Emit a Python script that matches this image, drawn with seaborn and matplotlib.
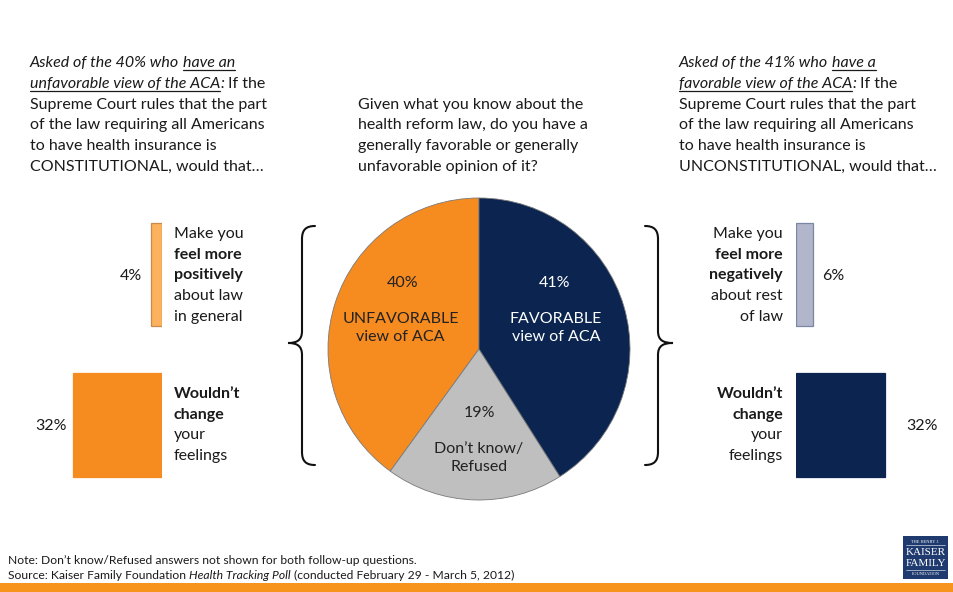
import matplotlib
matplotlib.use("Agg")
import matplotlib.pyplot as plt
from matplotlib.path import Path
from matplotlib.patches import PathPatch, Rectangle
import seaborn as sns
import pandas as pd

# Overall opinion of the health reform law
pie_labels = ["UNFAVORABLE\nview of ACA", "Don\u2019t know/\nRefused", "FAVORABLE\nview of ACA"]
pie_values = [40, 19, 41]
pie_colors = ["#F68B1F", "#BFBFBF", "#0B2550"]

# Follow-up among the unfavorable group (ruling: CONSTITUTIONAL)
unfav_categories = ["More positive", "No change"]
unfav_values = [4, 32]
unfav_colors = ["#FBB15E", "#F68B1F"]
unfav_edges = ["#C98A4B", "#F68B1F"]

# Follow-up among the favorable group (ruling: UNCONSTITUTIONAL)
fav_categories = ["More negative", "No change"]
fav_values = [6, 32]
fav_colors = ["#B1B6CB", "#0B2550"]
fav_edges = ["#7A86A6", "#0B2550"]

W, H = 954, 592
FS = 11.5
FONT = ["Lato", "DejaVu Sans"]

sns.set_theme(style="white")
plt.rcParams["font.family"] = FONT

fig = plt.figure(figsize=(W / 100, H / 100), dpi=100)
fig.patch.set_facecolor("white")


def px_axes(x0, y0, x1, y1):
    """Axes placed by pixel box (top-left origin)."""
    return fig.add_axes([x0 / W, (H - y1) / H, (x1 - x0) / W, (y1 - y0) / H])


PX_PER_PCT = 2.77
BAR_W = 132


def bar_panel(ax, cats, vals, colors, edges, flip):
    df = pd.DataFrame({"category": cats, "value": vals})
    sns.barplot(data=df, x="value", y="category", hue="category",
                palette=colors, legend=False, orient="h", width=0.69,
                ax=ax, saturation=1)
    for p, ec in zip(ax.patches, edges):
        p.set_edgecolor(ec)
        p.set_linewidth(0.9)
    lim = BAR_W / PX_PER_PCT
    ax.set_xlim((lim, 0) if flip else (0, lim))
    ax.set_ylim(1.5, -0.5)
    ax.set_axis_off()


ax_l = px_axes(162 - BAR_W, 199.25, 162, 500.25)
bar_panel(ax_l, unfav_categories, unfav_values, unfav_colors, unfav_edges, True)
ax_r = px_axes(796, 199.25, 796 + BAR_W, 500.25)
bar_panel(ax_r, fav_categories, fav_values, fav_colors, fav_edges, False)

# Pie of overall opinion
ax_p = px_axes(328, 198, 630, 500)
ax_p.pie(pie_values, colors=pie_colors, startangle=90, counterclock=True,
         radius=1, wedgeprops=dict(edgecolor="#7a7a7a", linewidth=0.6))
ax_p.set_xlim(-1, 1)
ax_p.set_ylim(-1, 1)
ax_p.set_aspect("equal")
pct_pos = [(-0.503, 0.437), (0.0, -0.424), (0.503, 0.437)]
lab_pos = [(-0.52, 0.14), (0.0, -0.72), (0.51, 0.14)]
txt_cols = ["#222222", "#222222", "white"]
for v, lab, pp, lp, c in zip(pie_values, pie_labels, pct_pos, lab_pos, txt_cols):
    ax_p.text(*pp, f"{v}%", ha="center", va="center", fontsize=FS, color=c)
    ax_p.text(*lp, lab, ha="center", va="center", fontsize=FS, color=c,
              linespacing=1.38)

# Overlay in pixel coordinates for annotations
ov = fig.add_axes([0, 0, 1, 1])
ov.set_xlim(0, W)
ov.set_ylim(H, 0)
ov.set_axis_off()
ov.patch.set_alpha(0)

renderer = fig.canvas.get_renderer()
TXT = "#1a1a1a"


def text_width(s, **kw):
    t = ov.text(0, 0, s, fontsize=kw.get("size", FS),
                fontweight=kw.get("weight", "normal"),
                fontstyle=kw.get("style", "normal"))
    w = t.get_window_extent(renderer).width
    t.remove()
    return w


def rich(x, y, parts, size=FS):
    """Draw a line made of styled pieces; each piece is
    (text, weight, style, underline, space_before)."""
    cx = x
    for s, weight, style, under, space in parts:
        if space:
            cx += text_width("n n", size=size, weight=weight, style=style) - \
                text_width("nn", size=size, weight=weight, style=style)
        t = ov.text(cx, y, s, fontsize=size, fontweight=weight,
                    fontstyle=style, color=TXT, ha="left", va="baseline")
        bb = t.get_window_extent(renderer)
        if under:
            ov.plot([bb.x0, bb.x1], [y + 2.5, y + 2.5], color=TXT, lw=0.9)
        cx = bb.x1


N, I = "normal", "italic"
BASE = [67, 88, 108.5, 129, 150, 170.5]

left_block = [
    [("Asked of the 40% who", N, I, False, False), ("have an", N, I, True, True)],
    [("unfavorable view of the ACA", N, I, True, False), (":", N, I, False, False),
     ("If the", N, N, False, True)],
    [("Supreme Court rules that the part", N, N, False, False)],
    [("of the law requiring all Americans", N, N, False, False)],
    [("to have health insurance is", N, N, False, False)],
    [("CONSTITUTIONAL, would that\u2026", N, N, False, False)],
]
right_block = [
    [("Asked of the 41% who", N, I, False, False), ("have a", N, I, True, True)],
    [("favorable view of the ACA", N, I, True, False), (":", N, I, False, False),
     ("If the", N, N, False, True)],
    [("Supreme Court rules that the part", N, N, False, False)],
    [("of the law requiring all Americans", N, N, False, False)],
    [("to have health insurance is", N, N, False, False)],
    [("UNCONSTITUTIONAL, would that\u2026", N, N, False, False)],
]
for parts, y in zip(left_block, BASE):
    rich(30, y, parts)
for parts, y in zip(right_block, BASE):
    rich(679, y, parts)

center_lines = ["Given what you know about the",
                "health reform law, do you have a",
                "generally favorable or generally",
                "unfavorable opinion of it?"]
for s, y in zip(center_lines, BASE[2:]):
    ov.text(358, y, s, fontsize=FS, color=TXT, va="baseline")

# Bar descriptions
B = "bold"
top_lbl_y = [238, 259, 279.5, 300, 321]
low_lbl_y = [398, 419, 439.5, 460]
left_top = [("Make you", N), ("feel more", B), ("positively", B),
            ("about law", N), ("in general", N)]
right_top = [("Make you", N), ("feel more", B), ("negatively", B),
             ("about rest", N), ("of law", N)]
low = [("Wouldn\u2019t", B), ("change", B), ("your", N), ("feelings", N)]
for (s, w), y in zip(left_top, top_lbl_y):
    ov.text(174, y, s, fontsize=FS, fontweight=w, color=TXT, va="baseline")
for (s, w), y in zip(right_top, top_lbl_y):
    ov.text(783, y, s, fontsize=FS, fontweight=w, color=TXT, va="baseline", ha="right")
for (s, w), y in zip(low, low_lbl_y):
    ov.text(174, y, s, fontsize=FS, fontweight=w, color=TXT, va="baseline")
    ov.text(783, y, s, fontsize=FS, fontweight=w, color=TXT, va="baseline", ha="right")

# Value labels beside bars
ov.text(142, 280, f"{unfav_values[0]}%", fontsize=FS, color=TXT, ha="right", va="baseline")
ov.text(67, 430, f"{unfav_values[1]}%", fontsize=FS, color=TXT, ha="right", va="baseline")
ov.text(822, 280, f"{fav_values[0]}%", fontsize=FS, color=TXT, ha="left", va="baseline")
ov.text(906, 430, f"{fav_values[1]}%", fontsize=FS, color=TXT, ha="left", va="baseline")


# Curly braces linking the pie to each follow-up
def brace(xe, xv, xt, y0, ym, y1, sgn):
    c = 8 * sgn
    verts = [(xe, y0), (xv + (xe - xv) * 0.3, y0), (xv, y0 + 4), (xv, y0 + 13),
             (xv, ym - 12),
             (xv, ym - 3), (xv - c * 0.6, ym), (xt, ym),
             (xv - c * 0.6, ym), (xv, ym + 3), (xv, ym + 12),
             (xv, y1 - 13),
             (xv, y1 - 4), (xv + (xe - xv) * 0.3, y1), (xe, y1)]
    codes = [Path.MOVETO, Path.CURVE4, Path.CURVE4, Path.CURVE4,
             Path.LINETO,
             Path.CURVE4, Path.CURVE4, Path.CURVE4,
             Path.CURVE4, Path.CURVE4, Path.CURVE4,
             Path.LINETO,
             Path.CURVE4, Path.CURVE4, Path.CURVE4]
    ov.add_patch(PathPatch(Path(verts, codes), fill=False, lw=1.5,
                           edgecolor="#111111", capstyle="round"))


brace(315, 302, 288, 226, 343, 465, 1)
brace(645, 658, 673, 226, 343, 465, -1)

# Footer notes
FF = 8.7
ov.text(8, 564, "Note: Don\u2019t know/Refused answers not shown for both follow-up questions.",
        fontsize=FF, color=TXT, va="baseline")
rich(8, 579, [("Source: Kaiser Family Foundation", N, N, False, False),
              ("Health Tracking Poll", N, I, False, True),
              ("(conducted February 29 - March 5, 2012)", N, N, False, True)], size=FF)

# Bottom stripe
ov.add_patch(Rectangle((0, 583), W, 10, color="#F7941D", lw=0))

# Foundation logo
ov.add_patch(Rectangle((903, 536), 45, 43, color="#1E3A6E", lw=0))
serif = ["Liberation Serif", "DejaVu Serif"]
ov.text(925.5, 542, "THE HENRY J.", fontsize=3.2, color="white", ha="center",
        va="center", family=serif)
ov.plot([906, 945], [545, 545], color="white", lw=0.4)
ov.text(925.5, 552.5, "KAISER", fontsize=8, color="white", ha="center",
        va="center", family=serif)
ov.text(925.5, 563.5, "FAMILY", fontsize=8, color="white", ha="center",
        va="center", family=serif)
ov.plot([906, 945], [570, 570], color="white", lw=0.4)
ov.text(925.5, 574, "FOUNDATION", fontsize=3.2, color="white", ha="center",
        va="center", family=serif)

fig.savefig("out.png", dpi=100, facecolor="white")
